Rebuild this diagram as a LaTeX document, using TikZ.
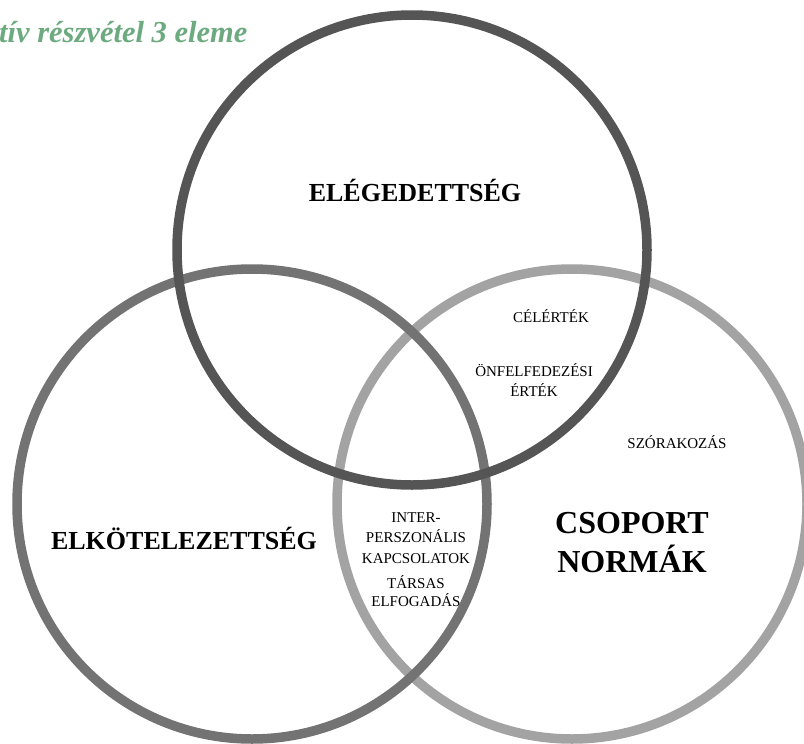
\documentclass[tikz,border=0pt]{standalone}
\usepackage{fontspec}
\setmainfont{Liberation Serif}
\definecolor{cdark}{HTML}{555555}
\definecolor{cmid}{HTML}{737373}
\definecolor{clight}{HTML}{A3A3A3}
\definecolor{ctitle}{HTML}{6DAA80}
\begin{document}
\begin{tikzpicture}[x=1pt,y=-1pt,
  ring/.style={line width=9.5pt},
  bigtxt/.style={font=\fontsize{26}{30}\selectfont\bfseries, anchor=base},
  hugetxt/.style={font=\fontsize{32}{39}\selectfont\bfseries, align=center},
  smalltxt/.style={font=\fontsize{15}{20.5}\selectfont, align=center, inner sep=0pt}]
\useasboundingbox (0,0) rectangle (804,744);
\clip (0,0) rectangle (804,744);
\fill[white] (0,0) rectangle (804,744);
\coordinate (cR) at (572,504);
\coordinate (cL) at (252,504);
\coordinate (cT) at (412,250);
\draw[ring, clight] (cR) circle (235pt);
\draw[ring, cmid] (cL) circle (235pt);
\draw[ring, cdark] (cT) circle (235pt);
\node[font=\fontsize{30.5}{34}\selectfont\bfseries\itshape, text=ctitle, anchor=base west, inner sep=0pt] (title) at (-1,42) {tív részvétel 3 eleme};
\node[bigtxt] (eleg) at (415,201) {ELÉGEDETTSÉG};
\node[bigtxt] (elkot) at (184,549) {ELKÖTELEZETTSÉG};
\node[hugetxt] (csop) at (632,543) {CSOPORT\\NORMÁK};
\node[smalltxt] (cel) at (551,316) {CÉLÉRTÉK};
\node[smalltxt] (onf) at (534,380) {ÖNFELFEDEZÉSI\\ÉRTÉK};
\node[smalltxt] (szor) at (677,442) {SZÓRAKOZÁS};
\node[smalltxt] (inter) at (416,538) {INTER-\\PERSZONÁLIS\\KAPCSOLATOK};
\node[font=\fontsize{15}{17.5}\selectfont, align=center, inner sep=0pt] (tars) at (416,591) {TÁRSAS\\ELFOGADÁS};
\end{tikzpicture}
\end{document}
